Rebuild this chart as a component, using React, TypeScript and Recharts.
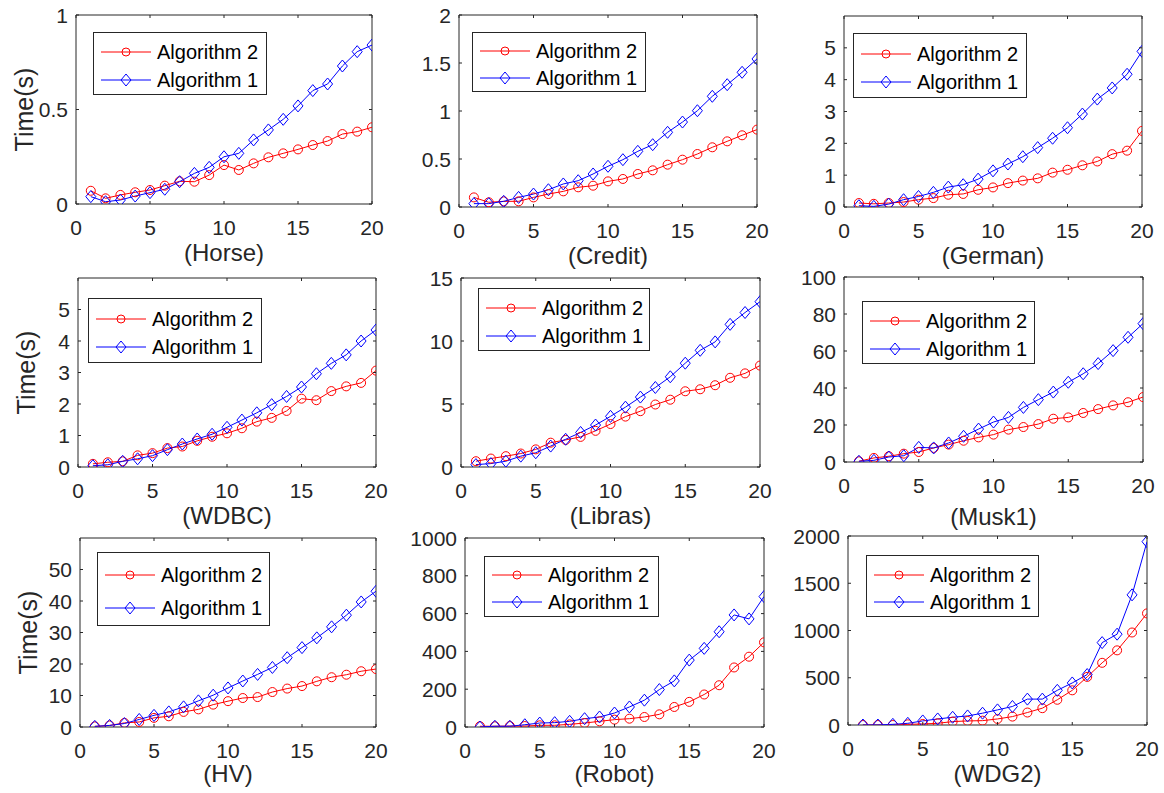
import React from 'react';
import { LineChart, Line, XAxis, YAxis, ReferenceArea } from 'recharts';

const xs = [1, 2, 3, 4, 5, 6, 7, 8, 9, 10, 11, 12, 13, 14, 15, 16, 17, 18, 19, 20];
const xTicks = [0, 5, 10, 15, 20];

const horseAlg2 = [0.07, 0.03, 0.048, 0.062, 0.074, 0.097, 0.12, 0.118, 0.153, 0.206, 0.18, 0.215, 0.247, 0.268, 0.289, 0.312, 0.333, 0.37, 0.383, 0.406];
const horseAlg1 = [0.039, 0.012, 0.021, 0.042, 0.06, 0.078, 0.118, 0.162, 0.194, 0.25, 0.268, 0.339, 0.392, 0.448, 0.519, 0.6, 0.635, 0.73, 0.806, 0.841];

const creditAlg2 = [0.1, 0.049, 0.059, 0.059, 0.1, 0.135, 0.163, 0.205, 0.222, 0.267, 0.292, 0.344, 0.382, 0.441, 0.493, 0.552, 0.622, 0.684, 0.747, 0.806];
const creditAlg1 = [0.035, 0.035, 0.059, 0.1, 0.135, 0.18, 0.24, 0.274, 0.344, 0.424, 0.493, 0.58, 0.649, 0.778, 0.885, 1.003, 1.153, 1.274, 1.403, 1.542];

const germanAlg2 = [0.125, 0.1, 0.125, 0.156, 0.23, 0.28, 0.385, 0.41, 0.54, 0.615, 0.75, 0.83, 0.9, 1.08, 1.17, 1.31, 1.43, 1.66, 1.77, 2.39];
const germanAlg1 = [0.04, 0.02, 0.09, 0.23, 0.33, 0.46, 0.625, 0.7, 0.875, 1.135, 1.35, 1.58, 1.865, 2.16, 2.49, 2.92, 3.39, 3.74, 4.17, 4.89];

const wdbcAlg2 = [0.1, 0.15, 0.18, 0.37, 0.44, 0.6, 0.65, 0.83, 0.96, 1.07, 1.23, 1.44, 1.56, 1.78, 2.17, 2.12, 2.41, 2.56, 2.67, 3.06];
const wdbcAlg1 = [0.04, 0.07, 0.18, 0.26, 0.36, 0.55, 0.73, 0.89, 1.04, 1.26, 1.49, 1.72, 1.98, 2.24, 2.54, 2.96, 3.29, 3.56, 4.0, 4.35];

const librasAlg2 = [0.46, 0.67, 0.86, 1.07, 1.4, 1.93, 2.15, 2.39, 2.87, 3.41, 4.0, 4.43, 4.96, 5.34, 6.01, 6.17, 6.49, 7.08, 7.43, 8.05];
const librasAlg1 = [0.19, 0.27, 0.46, 0.86, 1.13, 1.66, 2.2, 2.74, 3.33, 4.02, 4.75, 5.55, 6.31, 7.16, 8.24, 9.26, 9.93, 11.32, 12.26, 13.12];

const musk1Alg2 = [0.4, 2.2, 3.1, 4.5, 5.4, 7.6, 9.4, 11.5, 13.3, 14.8, 17.5, 18.9, 20.5, 23.4, 24.1, 26.5, 28.6, 30.6, 32.3, 35.1];
const musk1Alg1 = [0.4, 0.9, 2.7, 3.4, 7.9, 7.6, 10.3, 13.9, 17.8, 21.6, 24.1, 29.5, 33.7, 37.8, 43.1, 47.7, 53.2, 60.2, 67.4, 74.8];

const hvAlg2 = [0.2, 0.5, 1.3, 1.6, 2.9, 3.4, 4.8, 5.6, 7.1, 8.2, 9.2, 9.5, 11.1, 12.2, 13.0, 14.5, 15.8, 16.6, 17.7, 18.4];
const hvAlg1 = [0.2, 0.5, 1.1, 2.4, 3.7, 4.8, 6.4, 8.3, 10.1, 12.4, 14.6, 16.7, 18.9, 22.0, 25.2, 28.3, 31.8, 35.5, 39.7, 43.1];

const robotAlg2 = [4, 4, 5, 5, 9, 9, 14, 21, 30, 39, 44, 53, 67, 106, 133, 172, 221, 315, 372, 448];
const robotAlg1 = [0, 4, 4, 12, 21, 23, 30, 44, 53, 74, 106, 142, 198, 244, 354, 416, 504, 593, 572, 690];

const wdg2Alg2 = [0, 0, 0, 7, 11, 18, 36, 43, 46, 64, 89, 132, 178, 267, 367, 509, 658, 790, 979, 1181];
const wdg2Alg1 = [0, 0, 7, 18, 43, 64, 82, 96, 125, 160, 196, 274, 274, 367, 445, 534, 872, 961, 1377, 1940];

const AXIS = '#262626';
const RED = '#ff0000';
const BLUE = '#0000ff';
const FONT = '"Liberation Sans", Arial, Helvetica, sans-serif';

const ML = 80;
const MT = 12;
const MR = 12;
const MB = 72;

type Box = { x: number; y: number; w: number; h: number };

interface PanelProps {
  name: string;
  alg2: number[];
  alg1: number[];
  yMax: number;
  yTicks: number[];
  plot: Box;
  legend: Box;
  yLabel?: boolean;
  xLabelDy?: number;
}

// matlab-ish diamond, a bit taller than wide
const diamondPath = (cx: number, cy: number) =>
  `M${cx},${cy - 6} L${cx + 5},${cy} L${cx},${cy + 6} L${cx - 5},${cy} Z`;

const renderDiamond = (p: any) => {
  if (p.cx == null || p.cy == null) return <g key={`d-${p.index}`} />;
  return <path key={`d-${p.index}`} d={diamondPath(p.cx, p.cy)} fill="none" stroke={BLUE} strokeWidth={1} />;
};

function LegendBox({ box, offX, offY }: { box: Box; offX: number; offY: number }) {
  const rows = [
    { label: 'Algorithm 2', color: RED, kind: 'circle', top: 0.3 },
    { label: 'Algorithm 1', color: BLUE, kind: 'diamond', top: 0.745 },
  ];
  return (
    <div
      style={{
        position: 'absolute',
        left: box.x - offX,
        top: box.y - offY,
        width: box.w,
        height: box.h,
        boxSizing: 'border-box',
        border: `1px solid ${AXIS}`,
        background: '#fff',
        fontFamily: FONT,
      }}
    >
      {rows.map((r) => (
        <div key={r.label} style={{ position: 'absolute', left: 0, top: box.h * r.top - 12, height: 24, width: box.w }}>
          <svg width={60} height={24} style={{ position: 'absolute', left: 0, top: 0 }}>
            <line x1={7} x2={57} y1={12} y2={12} stroke={r.color} strokeWidth={1} />
            {r.kind === 'circle' ? (
              <circle cx={32} cy={12} r={4} fill="none" stroke={r.color} strokeWidth={1} />
            ) : (
              <path d={diamondPath(32, 12)} fill="none" stroke={r.color} strokeWidth={1} />
            )}
          </svg>
          <span style={{ position: 'absolute', left: 63, top: 0, lineHeight: '24px', fontSize: 20, color: '#000', whiteSpace: 'nowrap' }}>
            {r.label}
          </span>
        </div>
      ))}
    </div>
  );
}

function Panel({ name, alg2, alg1, yMax, yTicks, plot, legend, yLabel, xLabelDy = 48 }: PanelProps) {
  const data = xs.map((x, i) => ({ x, a2: alg2[i], a1: alg1[i] }));
  const width = ML + plot.w + MR;
  const height = MT + plot.h + MB;
  const left = plot.x - ML;
  const top = plot.y - MT;

  const xTick = (p: any) => (
    <g>
      <line x1={p.x} x2={p.x} y1={p.y} y2={p.y - 3} stroke={AXIS} />
      <line x1={p.x} x2={p.x} y1={p.y - plot.h} y2={p.y - plot.h + 3} stroke={AXIS} />
      <text x={p.x} y={p.y + 23} textAnchor="middle" dominantBaseline="central" fill={AXIS} fontSize={21} fontFamily={FONT}>
        {p.payload.value}
      </text>
    </g>
  );

  const yTick = (p: any) => (
    <g>
      <line x1={p.x} x2={p.x + 3} y1={p.y} y2={p.y} stroke={AXIS} />
      <line x1={p.x + plot.w} x2={p.x + plot.w - 3} y1={p.y} y2={p.y} stroke={AXIS} />
      <text x={p.x - 8} y={p.y} textAnchor="end" dominantBaseline="central" fill={AXIS} fontSize={21} fontFamily={FONT}>
        {p.payload.value}
      </text>
    </g>
  );

  const xLabel = () => (
    <text x={ML + plot.w / 2} y={MT + plot.h + xLabelDy} textAnchor="middle" dominantBaseline="central" fill={AXIS} fontSize={24} fontFamily={FONT}>
      {`(${name})`}
    </text>
  );

  const yLabelEl = () => {
    const cx = ML - 52;
    const cy = MT + plot.h / 2;
    return (
      <text x={cx} y={cy} transform={`rotate(-90 ${cx} ${cy})`} textAnchor="middle" dominantBaseline="central" fill={AXIS} fontSize={25} fontFamily={FONT}>
        Time(s)
      </text>
    );
  };

  return (
    <div style={{ position: 'absolute', left, top, width, height }}>
      <LineChart width={width} height={height} data={data} margin={{ top: MT, right: MR, left: 0, bottom: 0 }}>
        <XAxis
          type="number"
          dataKey="x"
          domain={[0, 20]}
          ticks={xTicks}
          interval={0}
          tickSize={0}
          tickMargin={0}
          tickLine={false}
          axisLine={false}
          height={MB}
          tick={xTick}
          label={xLabel}
          allowDataOverflow
        />
        <YAxis
          type="number"
          domain={[0, yMax]}
          ticks={yTicks}
          interval={0}
          width={ML}
          tickSize={0}
          tickMargin={0}
          tickLine={false}
          axisLine={false}
          tick={yTick}
          label={yLabel ? yLabelEl : undefined}
          allowDataOverflow
        />
        <ReferenceArea x1={0} x2={20} y1={0} y2={yMax} fill="none" fillOpacity={0} stroke={AXIS} strokeWidth={1} />
        <Line
          type="linear"
          dataKey="a2"
          stroke={RED}
          strokeWidth={1}
          dot={{ r: 4.5, fill: 'none', stroke: RED, strokeWidth: 1 }}
          activeDot={false}
          isAnimationActive={false}
        />
        <Line
          type="linear"
          dataKey="a1"
          stroke={BLUE}
          strokeWidth={1}
          dot={renderDiamond}
          activeDot={false}
          isAnimationActive={false}
        />
      </LineChart>
      <LegendBox box={legend} offX={left} offY={top} />
    </div>
  );
}

export default function App() {
  return (
    <div style={{ position: 'absolute', left: 0, top: 0, width: 1164, height: 793, background: '#fff', overflow: 'hidden' }}>
      <Panel name="Horse" alg2={horseAlg2} alg1={horseAlg1} yMax={1} yTicks={[0, 0.5, 1]}
        plot={{ x: 76, y: 15, w: 296, h: 189 }} legend={{ x: 93, y: 32, w: 174, h: 63 }} yLabel />
      <Panel name="Credit" alg2={creditAlg2} alg1={creditAlg1} yMax={2} yTicks={[0, 0.5, 1, 1.5, 2]}
        plot={{ x: 459, y: 15, w: 298, h: 192 }} legend={{ x: 472, y: 32, w: 174, h: 60 }} />
      <Panel name="German" alg2={germanAlg2} alg1={germanAlg1} yMax={6} yTicks={[0, 1, 2, 3, 4, 5]}
        plot={{ x: 844, y: 16, w: 298, h: 191 }} legend={{ x: 853, y: 33, w: 174, h: 65 }} />
      <Panel name="WDBC" alg2={wdbcAlg2} alg1={wdbcAlg1} yMax={6} yTicks={[0, 1, 2, 3, 4, 5]}
        plot={{ x: 78, y: 278, w: 298, h: 189 }} legend={{ x: 88, y: 298, w: 174, h: 65 }} yLabel />
      <Panel name="Libras" alg2={librasAlg2} alg1={librasAlg1} yMax={15} yTicks={[0, 5, 10, 15]}
        plot={{ x: 461, y: 278, w: 299, h: 189 }} legend={{ x: 478, y: 288, w: 172, h: 63 }} />
      <Panel name="Musk1" alg2={musk1Alg2} alg1={musk1Alg1} yMax={100} yTicks={[0, 20, 40, 60, 80, 100]}
        plot={{ x: 844, y: 277, w: 299, h: 185 }} legend={{ x: 862, y: 301, w: 173, h: 63 }} xLabelDy={54} />
      <Panel name="HV" alg2={hvAlg2} alg1={hvAlg1} yMax={60} yTicks={[0, 10, 20, 30, 40, 50]}
        plot={{ x: 80, y: 538, w: 296, h: 189 }} legend={{ x: 97, y: 552, w: 173, h: 74 }} yLabel xLabelDy={46} />
      <Panel name="Robot" alg2={robotAlg2} alg1={robotAlg1} yMax={1000} yTicks={[0, 200, 400, 600, 800, 1000]}
        plot={{ x: 465, y: 538, w: 299, h: 189 }} legend={{ x: 484, y: 556, w: 175, h: 61 }} xLabelDy={46} />
      <Panel name="WDG2" alg2={wdg2Alg2} alg1={wdg2Alg1} yMax={2000} yTicks={[0, 500, 1000, 1500, 2000]}
        plot={{ x: 848, y: 536, w: 299, h: 189 }} legend={{ x: 866, y: 555, w: 173, h: 62 }} xLabelDy={48} />
    </div>
  );
}
